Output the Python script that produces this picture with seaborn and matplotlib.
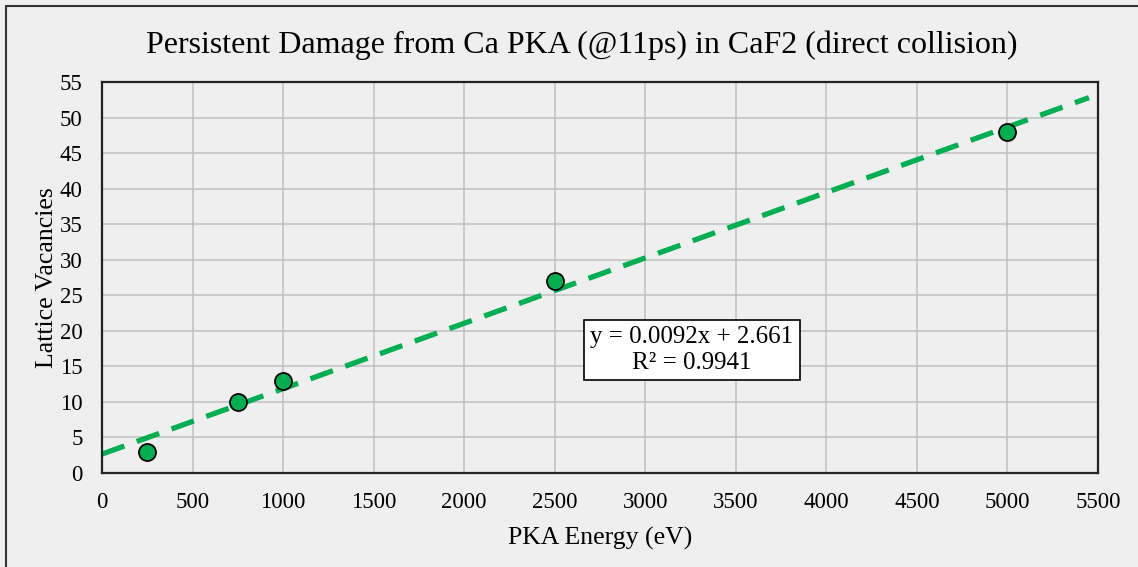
import numpy as np
import pandas as pd
import matplotlib.pyplot as plt
import seaborn as sns

# data
energy = [250, 750, 1000, 2500, 5000]
vacancies = [3, 10, 13, 27, 48]

# trendline as printed on the chart
slope = 0.0092
intercept = 2.661
r_squared = 0.9941
trend_end = 5450

x_ticks = list(range(0, 5501, 500))
y_ticks = list(range(0, 56, 5))

df = pd.DataFrame({"PKA Energy (eV)": energy, "Lattice Vacancies": vacancies})
trend_x = np.linspace(0, trend_end, 50)
trend = pd.DataFrame({"x": trend_x, "y": slope * trend_x + intercept})

sns.set_style("white")
plt.rcParams["font.family"] = ["Liberation Serif", "DejaVu Serif"]
plt.rcParams["text.color"] = "black"
plt.rcParams["axes.labelcolor"] = "black"
plt.rcParams["xtick.color"] = "black"
plt.rcParams["ytick.color"] = "black"

bg = "#efefef"
green = "#00b050"

fig = plt.figure(figsize=(11.38, 5.67), dpi=100, facecolor=bg)
ax = fig.add_axes([102 / 1138, 1 - 473 / 567, (1098 - 102) / 1138, (473 - 82) / 567])
ax.set_facecolor(bg)

sns.lineplot(data=trend, x="x", y="y", ax=ax, color=green, linewidth=3.8,
             linestyle=(0, (4.5, 2.5)), zorder=2)
sns.scatterplot(data=df, x="PKA Energy (eV)", y="Lattice Vacancies", ax=ax,
                color=green, edgecolor="black", linewidth=1.3, s=150, zorder=3)

ax.set_xlim(0, 5500)
ax.set_ylim(0, 55)
ax.set_xticks(x_ticks)
ax.set_yticks(y_ticks)
ax.grid(True, color="#bfbfbf", linewidth=1.1)
ax.set_axisbelow(True)
for s in ax.spines.values():
    s.set_color("#222222")
    s.set_linewidth(1.6)
ax.tick_params(axis="both", labelsize=16.5, length=0)
ax.tick_params(axis="x", pad=14)
ax.tick_params(axis="y", pad=14)
ax.set_xlabel("PKA Energy (eV)", fontsize=18.5, labelpad=10)
ax.set_ylabel("Lattice Vacancies", fontsize=18.5, labelpad=1)
fig.text(582 / 1138, 1 - 45 / 567,
         "Persistent Damage from Ca PKA (@11ps) in CaF2 (direct collision)",
         fontsize=23, ha="center", va="center")

ax.text(3258, 17.3, f"y = {slope}x + {intercept}\nR² = {r_squared}",
        ha="center", va="center", fontsize=18, linespacing=1.2,
        bbox=dict(boxstyle="square,pad=0.25", facecolor="white", edgecolor="black", linewidth=1.2))

# outer chart border (left and top visible)
fig.add_artist(plt.Line2D([6 / 1138, 6 / 1138], [0, 1 - 6 / 567], color="#333333", linewidth=1.5))
fig.add_artist(plt.Line2D([6 / 1138, 1], [1 - 6 / 567, 1 - 6 / 567], color="#333333", linewidth=1.5))

fig.savefig("out.png", dpi=100, facecolor=bg)
